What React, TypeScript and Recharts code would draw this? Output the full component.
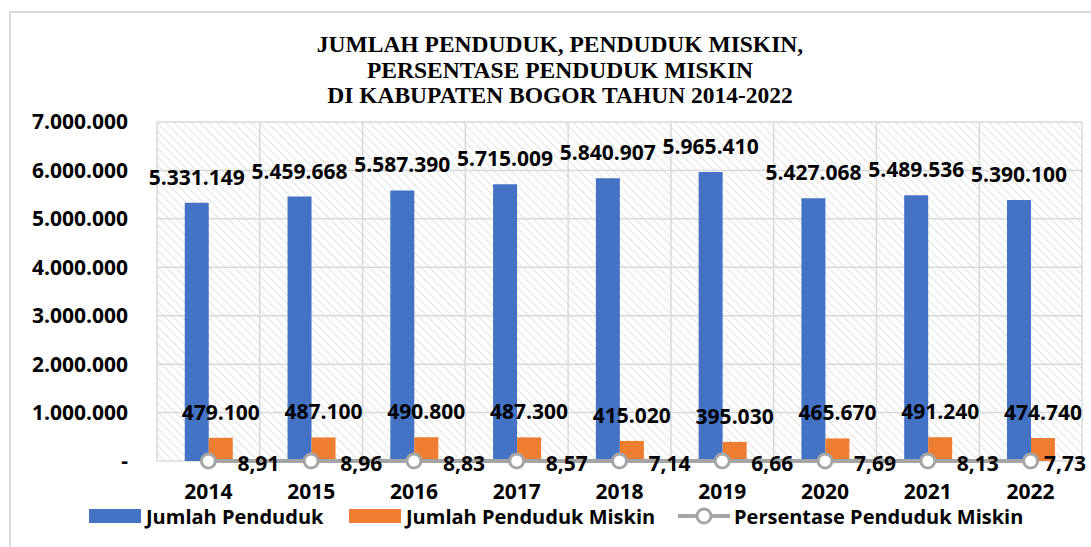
import React from "react";
import {
  ComposedChart, Bar, Line, XAxis, YAxis, CartesianGrid, LabelList
} from "recharts";

const years = ["2014", "2015", "2016", "2017", "2018", "2019", "2020", "2021", "2022"];
const jumlahPenduduk = [5331149, 5459668, 5587390, 5715009, 5840907, 5965410, 5427068, 5489536, 5390100];
const pendudukMiskin = [479100, 487100, 490800, 487300, 415020, 395030, 465670, 491240, 474740];
const persentaseMiskin = [8.91, 8.96, 8.83, 8.57, 7.14, 6.66, 7.69, 8.13, 7.73];
const yTicks = [0, 1000000, 2000000, 3000000, 4000000, 5000000, 6000000, 7000000];
const titleLines = [
  "JUMLAH PENDUDUK, PENDUDUK MISKIN,",
  "PERSENTASE PENDUDUK MISKIN",
  "DI KABUPATEN BOGOR TAHUN 2014-2022",
];

const data = years.map((y, i) => ({
  year: y,
  total: jumlahPenduduk[i],
  miskin: pendudukMiskin[i],
  persen: persentaseMiskin[i],
}));

const W = 1091, H = 547;
const BLUE = "#4472C4";
const ORANGE = "#ED7D31";
const GRAY = "#A5A5A5";
const FONT = "'Open Sans', sans-serif";

const fmtDots = (v: number) => String(Math.round(v)).replace(/\B(?=(\d{3})+(?!\d))/g, ".");
const fmtComma = (v: number) => v.toFixed(2).replace(".", ",");

const labelStyle = { fontFamily: FONT, fontWeight: 700, fontSize: 21, fill: "#000" };

// percent label to the right of the marker, pulled back in if it would run off the edge
function PctLabel(props: any) {
  const { x = 0, y = 0, value } = props;
  const txt = fmtComma(Number(value));
  const start = x + 29;
  const fits = start + 48 < W - 4;
  return (
    <text
      x={fits ? start : W - 5}
      y={y + 2}
      textAnchor={fits ? "start" : "end"}
      dominantBaseline="central"
      style={labelStyle}
    >
      {txt}
    </text>
  );
}

export default function App() {
  return (
    <div style={{ position: "relative", width: W, height: H, background: "#fff", overflow: "hidden" }}>
      <style>{`body{margin:0}`}</style>
      <div style={{ position: "absolute", left: 9, top: 11, width: W, height: H, borderLeft: "2px solid #d9d9d9", borderTop: "2px solid #d9d9d9" }} />
      <div style={{ position: "absolute", left: 0, top: 32, width: 1120, textAlign: "center", fontFamily: "'Liberation Serif', serif", fontWeight: 700, fontSize: 23.5, lineHeight: "25.5px", color: "#000" }}>
        {titleLines.map((t) => <div key={t}>{t}</div>)}
      </div>
      <ComposedChart
        width={W}
        height={H}
        data={data}
        margin={{ top: 122, right: 9, bottom: 56, left: 0 }}
        barCategoryGap="27%"
        barGap={0}
        style={{ position: "absolute", left: 0, top: 0 }}
      >
        <defs>
          <pattern id="hatch" patternUnits="userSpaceOnUse" width="6" height="6" patternTransform="rotate(-45)">
            <line x1="0" y1="0" x2="0" y2="6" stroke="#d4d4d4" strokeWidth="1.3" />
          </pattern>
        </defs>
        <CartesianGrid
          fill="url(#hatch)"
          stroke="#d9d9d9"
          strokeWidth={1.5}
          verticalCoordinatesGenerator={({ offset }: any) =>
            years.map((_, i) => offset.left + (i * offset.width) / years.length).concat(offset.left + offset.width)
          }
        />
        <XAxis
          dataKey="year"
          height={30}
          axisLine={false}
          tickLine={false}
          tickSize={0}
          tickMargin={23}
          tick={{ ...labelStyle }}
        />
        <YAxis
          domain={[0, 7000000]}
          ticks={yTicks}
          width={157}
          axisLine={false}
          tickLine={false}
          tickSize={0}
          tickMargin={29}
          tickFormatter={(v: number) => (v === 0 ? "-" : fmtDots(v))}
          tick={{ ...labelStyle }}
        />
        <Bar dataKey="total" fill={BLUE} isAnimationActive={false}>
          <LabelList dataKey="total" position="top" offset={18} formatter={(v: any) => fmtDots(v)} style={labelStyle} />
        </Bar>
        <Bar dataKey="miskin" fill={ORANGE} isAnimationActive={false}>
          <LabelList dataKey="miskin" position="top" offset={18} formatter={(v: any) => fmtDots(v)} style={labelStyle} />
        </Bar>
        <Line
          dataKey="persen"
          stroke={GRAY}
          strokeWidth={4}
          dot={{ r: 7, fill: "#fff", stroke: GRAY, strokeWidth: 3 }}
          isAnimationActive={false}
        >
          <LabelList dataKey="persen" content={<PctLabel />} />
        </Line>
      </ComposedChart>
      <div style={{ position: "absolute", top: 507, left: 0, width: W, height: 20, fontFamily: FONT, fontWeight: 700, fontSize: 20, color: "#000" }}>
        <div style={{ position: "absolute", left: 89, top: 2, width: 52, height: 14, background: BLUE }} />
        <div style={{ position: "absolute", left: 146, top: 0, lineHeight: "20px" }}>Jumlah Penduduk</div>
        <div style={{ position: "absolute", left: 349, top: 2, width: 52, height: 14, background: ORANGE }} />
        <div style={{ position: "absolute", left: 406, top: 0, lineHeight: "20px" }}>Jumlah Penduduk Miskin</div>
        <svg style={{ position: "absolute", left: 676, top: 0 }} width={56} height={20}>
          <line x1={2} y1={9} x2={54} y2={9} stroke={GRAY} strokeWidth={4} />
          <circle cx={28} cy={9} r={7} fill="#fff" stroke={GRAY} strokeWidth={3} />
        </svg>
        <div style={{ position: "absolute", left: 734, top: 0, lineHeight: "20px" }}>Persentase Penduduk Miskin</div>
      </div>
    </div>
  );
}
